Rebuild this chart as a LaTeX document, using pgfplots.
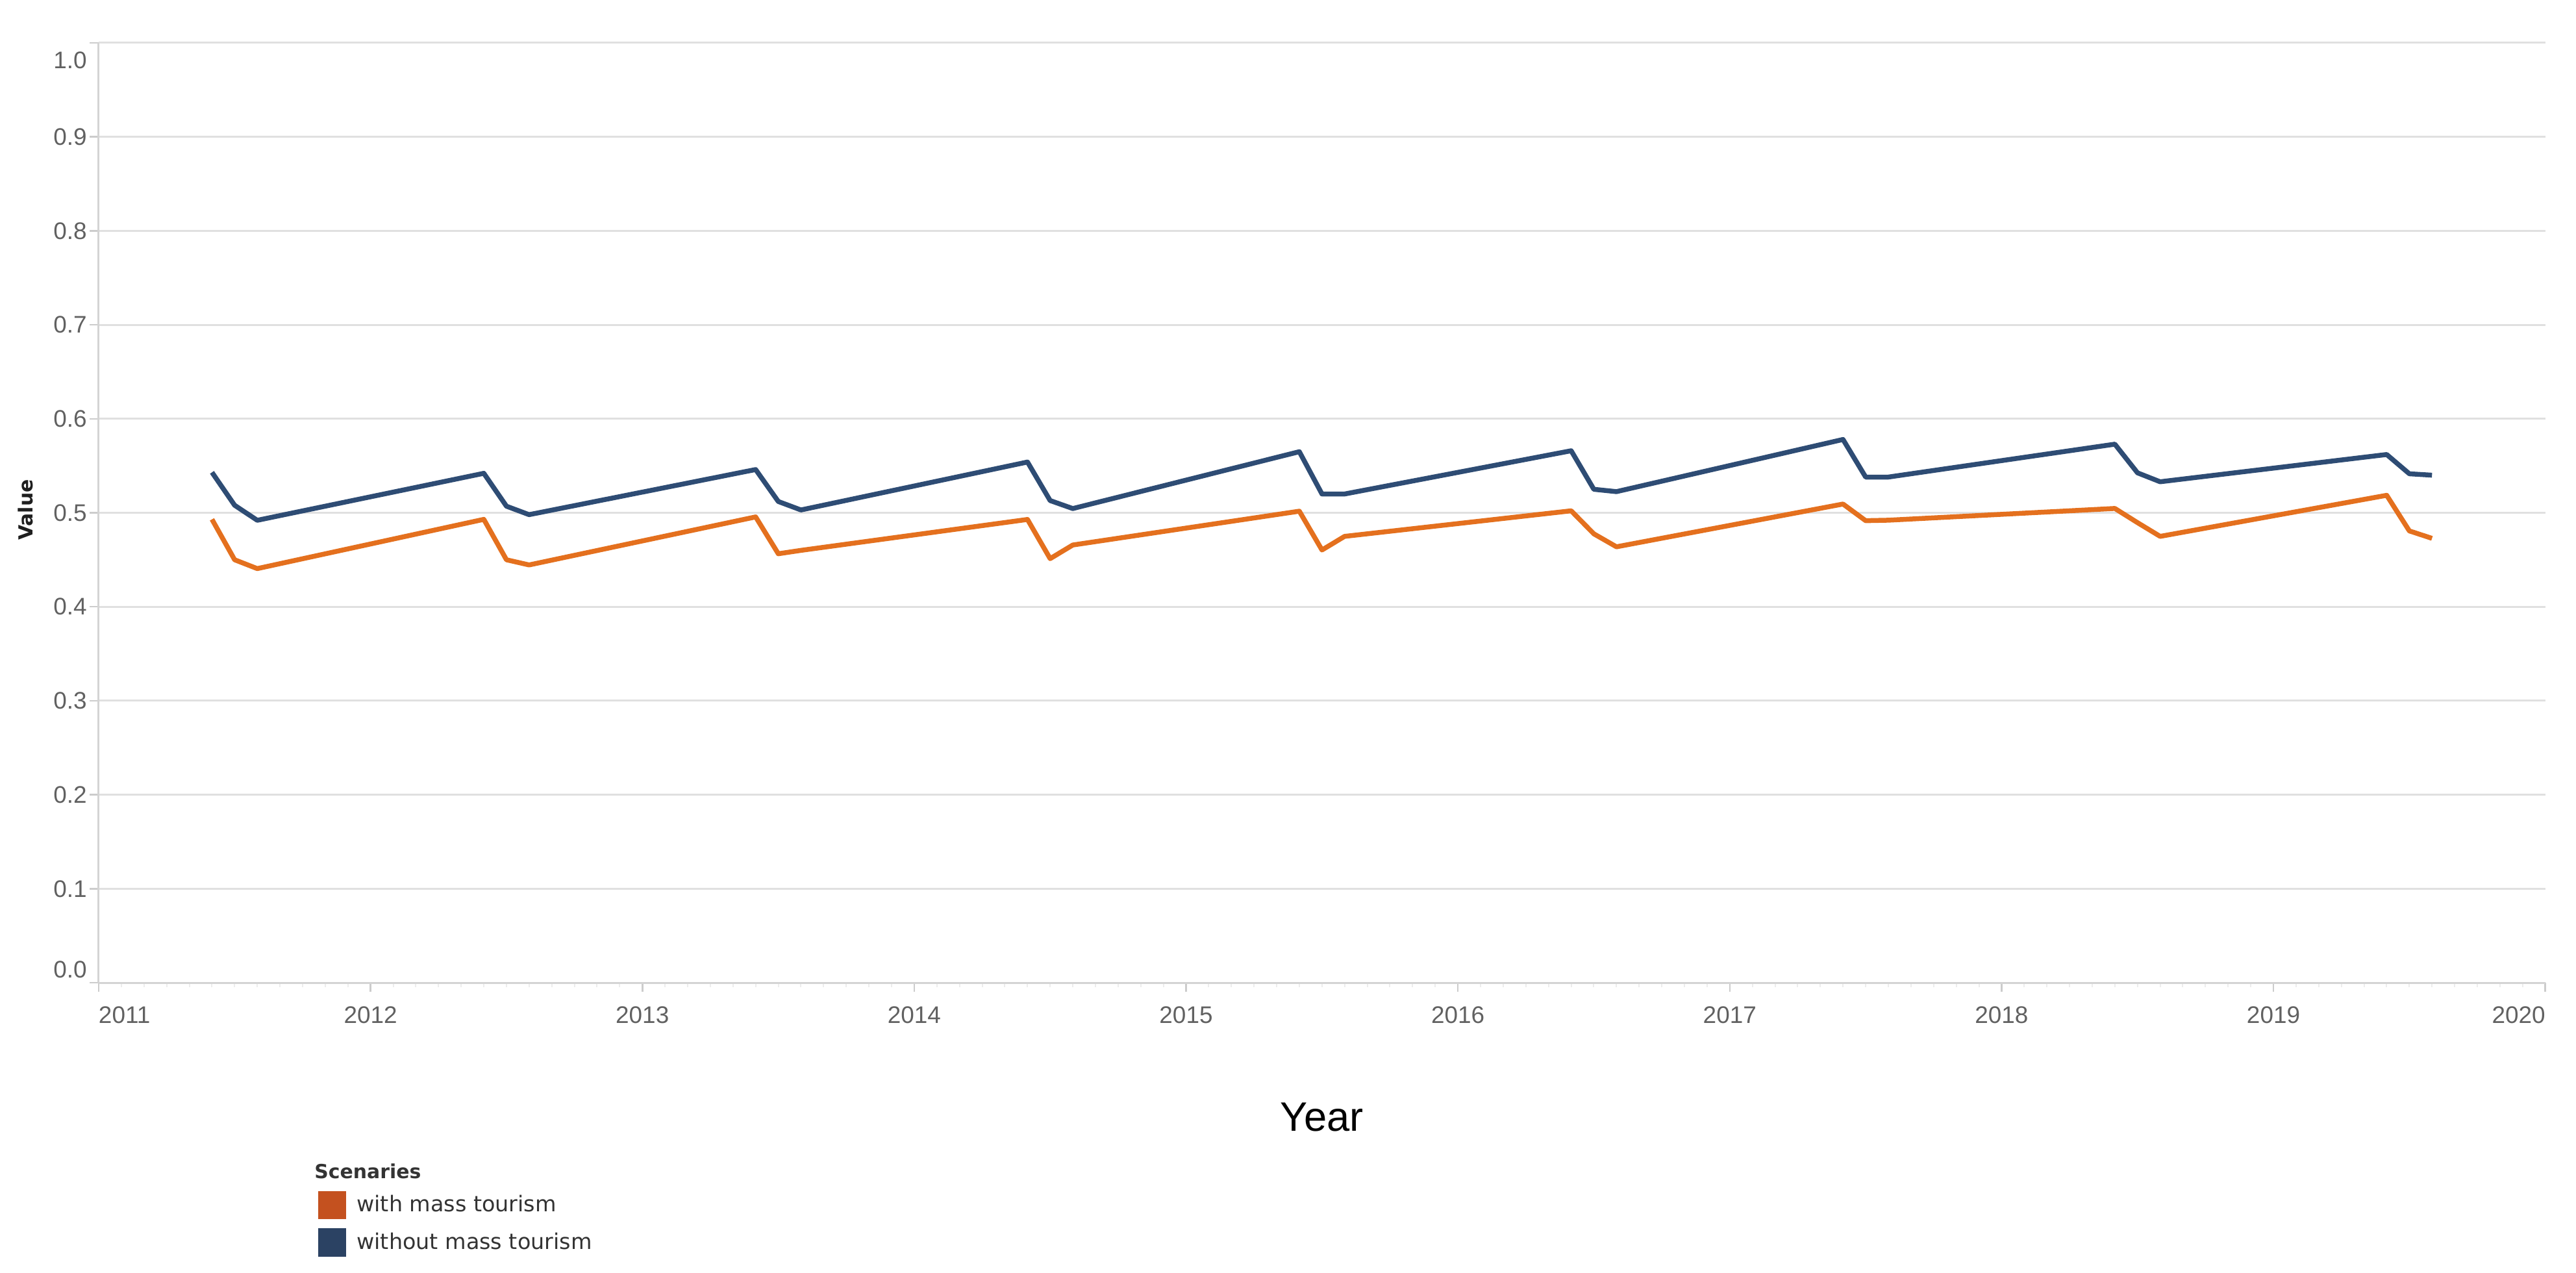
\documentclass[border=0pt]{standalone}
\usepackage{fontspec}
\setmainfont{Liberation Sans}
\newfontfamily\dejavu{DejaVu Sans}
\usepackage{pgfplots}
\pgfplotsset{compat=1.18}

\definecolor{lineorange}{HTML}{E4701E}
\definecolor{lineblue}{HTML}{2E4C74}
\definecolor{legorange}{HTML}{C4511F}
\definecolor{legblue}{HTML}{2B4263}

\begin{document}
\begin{tikzpicture}
\useasboundingbox (-15.2mm,-44.6mm) rectangle (381.5mm,151.3mm);
\begin{axis}[
  at={(0mm,0mm)}, anchor=south west,
  scale only axis, width=376.8mm, height=144.7mm,
  xmin=2011, xmax=2020, ymin=0, ymax=1,
  axis x line=bottom, axis y line=left,
  axis line style={-, draw=black!17, line width=0.3mm},
  tick align=outside,
  major tick length=1.4mm,
  tick style={draw=black!20, line width=0.25mm},
  minor x tick num=11,
  minor tick length=0.7mm,
  minor tick style={draw=black!7, line width=0.2mm},
  xtick={2011,2012,2013,2014,2015,2016,2017,2018,2019,2020},
  xticklabels={\rlap{2011},2012,2013,2014,2015,2016,2017,2018,2019,\llap{2020}},
  ytick={0,0.1,0.2,0.3,0.4,0.5,0.6,0.7,0.8,0.9,1},
  yticklabels={\raisebox{0.8mm}[0pt][0pt]{0.0},0.1,0.2,0.3,0.4,0.5,0.6,0.7,0.8,0.9,\raisebox{-4.0mm}[0pt][0pt]{1.0}},
  /pgf/number format/assume math mode=true,
  ticklabel style={font=\fontsize{10.5}{12}\selectfont, text=black!62},
  yticklabel style={xshift=0.8mm},
  xticklabel shift=1mm,
  ymajorgrids,
  major grid style={draw=black!12, line width=0.3mm},
  xlabel={Year},
  xlabel style={at={(axis description cs:0.5,-0.1576)}, anchor=base,
    font=\fontsize{18}{20}\selectfont, text=black},
  ylabel={Value},
  ylabel style={at={(axis description cs:-0.030,0.503)}, anchor=center,
    font=\dejavu\bfseries\fontsize{8.5}{10}\selectfont, text=black!88},
  legend cell align=left,
  legend image code/.code={\fill[#1] (0mm,-2.1mm) rectangle (4.2mm,2.1mm);},
  legend style={at={(axis description cs:0.0897,-0.1928)}, anchor=north west,
    draw=none, fill=none, inner sep=0pt, outer sep=0pt,
    row sep=1.4mm, column sep=1.6mm,
    nodes={inner sep=0pt, text depth=0.15em},
    font=\dejavu\fontsize{9.5}{11}\selectfont, text=black!80},
]

% with mass tourism (Jun, Jul, Aug of every year)
\addplot[lineorange, line width=0.75mm, line join=round, forget plot] coordinates {
  (2011.4167,0.493) (2011.5,0.450) (2011.5833,0.4406)
  (2012.4167,0.493) (2012.5,0.450) (2012.5833,0.4445)
  (2013.4167,0.4956) (2013.5,0.4564) (2013.5833,0.460)
  (2014.4167,0.4929) (2014.5,0.4512) (2014.5833,0.4657)
  (2015.4167,0.5017) (2015.5,0.4604) (2015.5833,0.4749)
  (2016.4167,0.5021) (2016.5,0.4776) (2016.5833,0.4638)
  (2017.4167,0.5093) (2017.5,0.4916) (2017.5833,0.4921)
  (2018.4167,0.5046) (2018.5,0.4895) (2018.5833,0.4749)
  (2019.4167,0.5186) (2019.5,0.4807) (2019.5833,0.4728)
};

% without mass tourism
\addplot[lineblue, line width=0.75mm, line join=round, forget plot] coordinates {
  (2011.4167,0.543) (2011.5,0.508) (2011.5833,0.492)
  (2012.4167,0.542) (2012.5,0.507) (2012.5833,0.498)
  (2013.4167,0.546) (2013.5,0.512) (2013.5833,0.503)
  (2014.4167,0.554) (2014.5,0.513) (2014.5833,0.5045)
  (2015.4167,0.565) (2015.5,0.520) (2015.5833,0.520)
  (2016.4167,0.566) (2016.5,0.525) (2016.5833,0.5225)
  (2017.4167,0.578) (2017.5,0.538) (2017.5833,0.538)
  (2018.4167,0.573) (2018.5,0.5425) (2018.5833,0.533)
  (2019.4167,0.562) (2019.5,0.5415) (2019.5833,0.540)
};

\addlegendimage{empty legend}
\addlegendentry{\hspace*{-6.5mm}\fontsize{8.5}{10}\selectfont\bfseries Scenaries}
\addlegendimage{legorange}
\addlegendentry{with mass tourism}
\addlegendimage{legblue}
\addlegendentry{without mass tourism}

\end{axis}
\end{tikzpicture}
\end{document}
